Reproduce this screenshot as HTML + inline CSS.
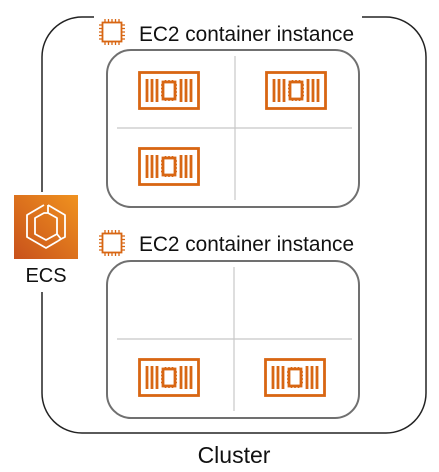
<!DOCTYPE html>
<html><head><style>body{margin:0;background:#fff}svg{display:block}</style></head><body>
<svg width="439" height="472" viewBox="0 0 439 472" xmlns="http://www.w3.org/2000/svg">
<defs>
<g id="inst" fill="none" stroke="#d86613" stroke-width="2.8">
<rect x="1.5" y="1.5" width="59" height="36"/>
<line x1="9" y1="8" x2="9" y2="31"/><line x1="14" y1="8" x2="14" y2="31"/><line x1="19" y1="8" x2="19" y2="31"/>
<line x1="43" y1="8" x2="43" y2="31"/><line x1="48" y1="8" x2="48" y2="31"/><line x1="53" y1="8" x2="53" y2="31"/>
<rect x="25" y="11" width="12" height="17"/>
<path d="M23 14h2M23 17.5h2M23 21h2M23 24.5h2M37 14h2M37 17.5h2M37 21h2M37 24.5h2M27.5 9v2M31 9v2M34.5 9v2M27.5 28v2M31 28v2M34.5 28v2" stroke-width="1.6"/>
</g>
<g id="chip" fill="none" stroke="#d86613">
<rect x="4.5" y="4.5" width="19" height="19" stroke-width="1.8"/>
<path d="M7 1v3M10.5 1v3M14 1v3M17.5 1v3M21 1v3M7 24v3M10.5 24v3M14 24v3M17.5 24v3M21 24v3M1 7h3M1 10.5h3M1 14h3M1 17.5h3M1 21h3M24 7h3M24 10.5h3M24 14h3M24 17.5h3M24 21h3" stroke-width="1.3"/>
</g>
<linearGradient id="g" x1="0" y1="1" x2="1" y2="0"><stop offset="0" stop-color="#c8511b"/><stop offset="1" stop-color="#f0921f"/></linearGradient>
</defs>
<rect x="42" y="17" width="384" height="416" rx="40" fill="none" stroke="#232323" stroke-width="1.5"/>
<rect x="107" y="50" width="252" height="157" rx="24" fill="#fff" stroke="#707070" stroke-width="2"/>
<line x1="117" y1="128" x2="352" y2="128" stroke="#c8c8c8" stroke-width="1.2"/>
<line x1="235" y1="56" x2="235" y2="200" stroke="#c8c8c8" stroke-width="1.2"/>
<rect x="107" y="261" width="252" height="157" rx="24" fill="#fff" stroke="#707070" stroke-width="2"/>
<line x1="117" y1="339" x2="352" y2="339" stroke="#c8c8c8" stroke-width="1.2"/>
<line x1="234" y1="267" x2="234" y2="411" stroke="#c8c8c8" stroke-width="1.2"/>
<use href="#inst" x="138" y="71"/><use href="#inst" x="265" y="71"/><use href="#inst" x="138" y="147"/>
<use href="#inst" x="138" y="358"/><use href="#inst" x="264" y="358"/>
<rect x="94" y="16" width="268" height="30" fill="#fff"/>
<use href="#chip" x="98" y="18"/>
<text x="139" y="41" font-family="Liberation Sans, sans-serif" font-size="20.8" fill="#111">EC2 container instance</text>
<rect x="94" y="228" width="268" height="30" fill="#fff"/>
<use href="#chip" x="98" y="229"/>
<text x="139" y="251" font-family="Liberation Sans, sans-serif" font-size="20.8" fill="#111">EC2 container instance</text>
<rect x="10" y="192" width="70" height="100" fill="#fff"/>
<rect x="14" y="195" width="64" height="64" fill="url(#g)"/>
<g fill="none" stroke="#fff" stroke-width="1.8" stroke-linejoin="round">
<path d="M44 205 L27 215 L27 237 L46 248 L58 241"/>
<path d="M48 205 L65 215 L65 237 L61 239"/>
<path d="M44 213 L35 218 L35 234 L46 240 L57 234 L57 218 L48 213 Z"/>
<path d="M48 205 L48 213 M57 234 L61 239 L58 241"/>
</g>
<text x="46" y="282" text-anchor="middle" font-family="Liberation Sans, sans-serif" font-size="20" fill="#111">ECS</text>
<text x="234" y="463" text-anchor="middle" font-family="Liberation Sans, sans-serif" font-size="23" fill="#111">Cluster</text>
</svg>
</body></html>
